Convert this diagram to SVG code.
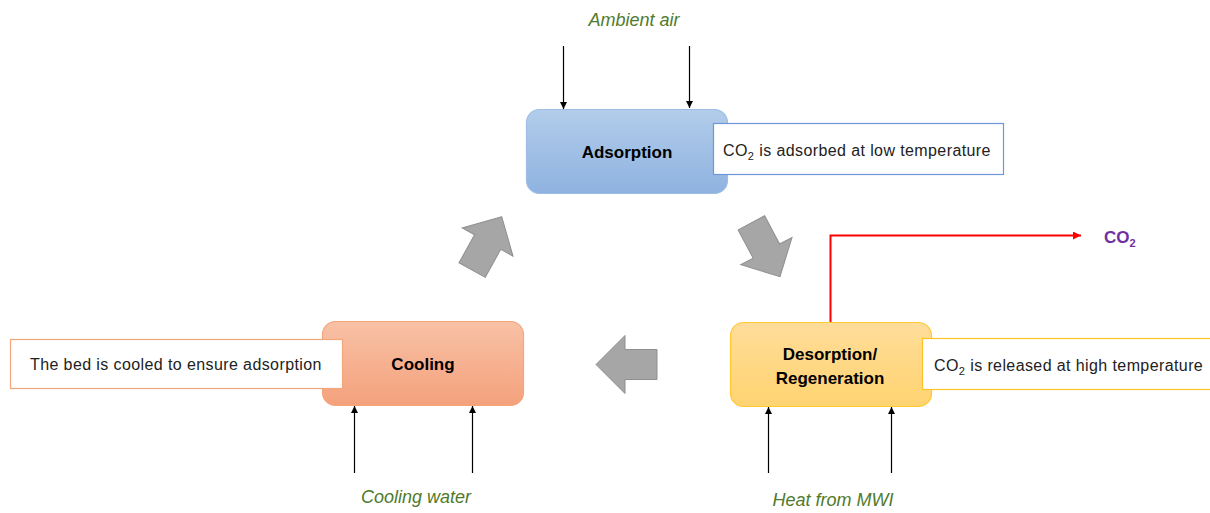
<svg xmlns="http://www.w3.org/2000/svg" width="1210" height="513" viewBox="0 0 1210 513">
<defs>
<linearGradient id="gBlue" x1="0" y1="0" x2="0" y2="1"><stop offset="0" stop-color="#b3cdeb"/><stop offset="1" stop-color="#8eb2e0"/></linearGradient>
<linearGradient id="gOrange" x1="0" y1="0" x2="0" y2="1"><stop offset="0" stop-color="#f8c1a6"/><stop offset="1" stop-color="#f4a17c"/></linearGradient>
<linearGradient id="gYellow" x1="0" y1="0" x2="0" y2="1"><stop offset="0" stop-color="#ffdd9a"/><stop offset="1" stop-color="#ffd370"/></linearGradient>
<marker id="ah" viewBox="0 0 10 10" refX="10" refY="5" markerWidth="7" markerHeight="7" markerUnits="userSpaceOnUse" orient="auto"><path d="M0,0 L10,5 L0,10 Z" fill="#000"/></marker>
<marker id="ahr" viewBox="0 0 10 10" refX="10" refY="5" markerWidth="8" markerHeight="8" markerUnits="userSpaceOnUse" orient="auto"><path d="M0,0 L10,5 L0,10 Z" fill="#ff0000"/></marker>
<path id="blk" d="M0,0 L-29,-29 L-29,-15 L-61,-15 L-61,15 L-29,15 L-29,29 Z"/>
</defs>
<style>
.lbl{font-family:"Liberation Sans",Arial,sans-serif;font-weight:bold;font-size:17px;fill:#000;text-anchor:middle}
.note{font-family:"Liberation Sans",Arial,sans-serif;font-size:16px;fill:#222;letter-spacing:0.4px}
.flow{font-family:"Liberation Sans",Arial,sans-serif;font-style:italic;font-size:18px;fill:#4f7a2c;text-anchor:middle}
.thin{stroke:#000;stroke-width:1.2;fill:none;marker-end:url(#ah)}
.big{fill:#a6a6a6;stroke:#8f8f8f;stroke-width:1}
</style>
<rect width="1210" height="513" fill="#fff"/>

<g id="adsorption">
<rect x="526.5" y="109.5" width="201" height="84" rx="13" fill="url(#gBlue)" stroke="#9dbde6" stroke-width="1.2"/>
<text class="lbl" x="627" y="158">Adsorption</text>
</g>
<g id="adsorption-note">
<rect x="713.5" y="123.5" width="290" height="51" fill="#fff" stroke="#6f96d8" stroke-width="1.2"/>
<text class="note" x="723" y="156">CO<tspan font-size="11" dy="4">2</tspan><tspan dy="-4"> is adsorbed at low temperature</tspan></text>
</g>

<g id="cooling">
<rect x="322.5" y="321.5" width="201" height="84" rx="13" fill="url(#gOrange)" stroke="#f3a57b" stroke-width="1.2"/>
<text class="lbl" x="423" y="370">Cooling</text>
</g>
<g id="cooling-note">
<rect x="10.5" y="339.5" width="332" height="49" fill="#fff" stroke="#f2a679" stroke-width="1.2"/>
<text class="note" x="30" y="370">The bed is cooled to ensure adsorption</text>
</g>

<g id="desorption">
<rect x="730.5" y="322.5" width="201" height="84" rx="13" fill="url(#gYellow)" stroke="#ffc933" stroke-width="1.2"/>
<text class="lbl" x="830" y="360">Desorption/</text>
<text class="lbl" x="830" y="384">Regeneration</text>
</g>
<g id="desorption-note">
<rect x="922.5" y="338.5" width="300" height="51" fill="#fff" stroke="#ffc424" stroke-width="1.2"/>
<text class="note" x="934" y="371">CO<tspan font-size="11" dy="4">2</tspan><tspan dy="-4"> is released at high temperature</tspan></text>
</g>

<g id="labels">
<text class="flow" x="634" y="26">Ambient air</text>
<text class="flow" x="416" y="503">Cooling water</text>
<text class="flow" x="833" y="506">Heat from MWI</text>
<text x="1104" y="243" font-family="Liberation Sans,Arial,sans-serif" font-weight="bold" font-size="17" fill="#7030a0">CO<tspan font-size="11" dy="4">2</tspan></text>
</g>

<g id="connectors">
<line class="thin" x1="563.5" y1="46" x2="563.5" y2="109"/>
<line class="thin" x1="689.5" y1="46" x2="689.5" y2="108"/>
<line class="thin" x1="354.5" y1="473" x2="354.5" y2="406"/>
<line class="thin" x1="472.5" y1="473" x2="472.5" y2="406"/>
<line class="thin" x1="768.5" y1="473" x2="768.5" y2="407"/>
<line class="thin" x1="891.5" y1="473" x2="891.5" y2="407"/>
<polyline points="830.5,322 830.5,235.5 1081,235.5" fill="none" stroke="#ff0000" stroke-width="2" marker-end="url(#ahr)"/>
<use href="#blk" class="big" transform="translate(501.7,216.7) rotate(-61)"/>
<use href="#blk" class="big" transform="translate(780,276.7) rotate(62)"/>
<use href="#blk" class="big" transform="translate(596,364.5) rotate(180)"/>
</g>
</svg>
